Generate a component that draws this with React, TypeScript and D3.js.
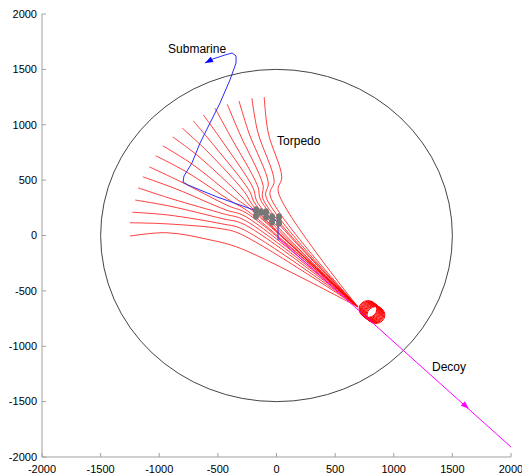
import React from "react";
import * as d3 from "d3";

// sonar plot: torpedo tracks homing on a decoy launched from the sub
const W = 522,
  H = 476;

const axisTicks = [-2000, -1500, -1000, -500, 0, 500, 1000, 1500, 2000];
const detectionRadius = 1500;

// submarine track, start -> end (arrow at end)
const submarineTrack: [number, number][] = [
  [13, -41], [13, 122], [-55, 167], [-166, 221], [-507, 348], [-755, 456],
  [-797, 483], [-789, 537], [-721, 655], [-652, 835], [-567, 1016],
  [-482, 1196], [-397, 1404], [-345, 1558], [-345, 1621], [-379, 1648],
  [-439, 1630], [-542, 1594], [-610, 1558],
];

// decoy track and where its arrow sits
const decoyTrack: [number, number][] = [[15, -25], [2000, -1910]];
const decoyArrow: [number, number] = [1640, -1565];

// torpedo tracks from each start point in to the decoy
const torpedoTracks: [number, number][][] = [
  [[-1250, -5], [-935, 25], [-565, -40], [-310, -115], [695, -645]],
  [[-1250, 115], [-935, 105], [-465, 60], [-310, 15], [695, -645]],
  [[-1230, 210], [-925, 185], [-465, 105], [-295, 60], [695, -645]],
  [[-1205, 320], [-910, 265], [-455, 150], [-285, 105], [695, -645]],
  [[-1180, 430], [-890, 330], [-450, 195], [-275, 140], [695, -645]],
  [[-1140, 530], [-855, 420], [-430, 230], [-270, 175], [695, -645]],
  [[-1085, 620], [-825, 490], [-405, 265], [-260, 205], [695, -645]],
  [[-1030, 720], [-770, 575], [-380, 305], [-245, 220], [695, -645]],
  [[-970, 810], [-720, 645], [-355, 340], [-225, 240], [695, -645]],
  [[-885, 890], [-660, 710], [-310, 365], [-210, 250], [695, -645]],
  [[-805, 970], [-600, 770], [-275, 395], [-190, 255], [695, -645]],
  [[-710, 1035], [-535, 815], [-235, 410], [-175, 275], [695, -645]],
  [[-625, 1090], [-465, 855], [-200, 430], [-160, 295], [695, -645]],
  [[-525, 1150], [-390, 890], [-160, 445], [-130, 310], [695, -645]],
  [[-420, 1185], [-310, 910], [-115, 455], [-115, 330], [695, -645]],
  [[-320, 1215], [-235, 925], [-70, 475], [-90, 350], [695, -645]],
  [[-210, 1240], [-160, 935], [-20, 490], [-55, 365], [695, -645]],
  [[-105, 1250], [-70, 925], [45, 530], [15, 395], [695, -645]],
];

// torpedo circling round the decoy
const loopCenters: [number, number][] = [
  [780, -664], [786, -669], [792, -674], [798, -679], [804, -684],
  [810, -689], [816, -694], [822, -699], [828, -704], [834, -709],
  [840, -713], [848, -718],
];
const loopRadius = 76;

// grey sub positions
const podMarkers: [number, number][] = [
  [-175, 230], [-175, 176], [-132, 212], [-89, 212], [-89, 167],
  [-38, 167], [-38, 122], [22, 167], [22, 113],
];

const labels = [
  { text: "Submarine", x: -925, y: 1648 },
  { text: "Torpedo", x: 5, y: 817 },
  { text: "Decoy", x: 1326, y: -1223 },
];

const font = "'Liberation Sans', Arial, sans-serif";

const arrowHead = (p: [number, number], angle: number, len = 8, half = 3) => {
  const c = Math.cos(angle),
    s = Math.sin(angle);
  const bx = p[0] - len * c,
    by = p[1] - len * s;
  return `${p[0]},${p[1]} ${bx - half * s},${by + half * c} ${bx + half * s},${by - half * c}`;
};

export default function App() {
  const x = d3.scaleLinear().domain([-2000, 2000]).range([42, 511]);
  const y = d3.scaleLinear().domain([-2000, 2000]).range([457, 14]);

  const line = d3
    .line<[number, number]>()
    .x((d) => x(d[0]))
    .y((d) => y(d[1]));

  const track = d3
    .line<[number, number]>()
    .x((d) => x(d[0]))
    .y((d) => y(d[1]))
    .curve(d3.curveCatmullRom.alpha(0.5));

  const subEnd = submarineTrack[submarineTrack.length - 1];
  const subPrev = submarineTrack[submarineTrack.length - 2];
  const subAngle = Math.atan2(y(subEnd[1]) - y(subPrev[1]), x(subEnd[0]) - x(subPrev[0]));
  const decAngle = Math.atan2(
    y(decoyTrack[1][1]) - y(decoyTrack[0][1]),
    x(decoyTrack[1][0]) - x(decoyTrack[0][0])
  );

  return (
    <svg
      width={W}
      height={H}
      style={{ position: "absolute", left: 0, top: 0, background: "#fff" }}
    >
      {/* axes */}
      <g stroke="#a0a0a0" strokeWidth={1} fill="none">
        <line x1={x(-2000)} x2={x(-2000)} y1={y(-2000)} y2={y(2000)} />
        <line x1={x(-2000)} x2={x(2000)} y1={y(-2000)} y2={y(-2000)} />
        {axisTicks.map((t) => (
          <g key={t}>
            <line x1={x(-2000)} x2={x(-2000) + 4} y1={y(t)} y2={y(t)} />
            <line x1={x(t)} x2={x(t)} y1={y(-2000)} y2={y(-2000) - 4} />
          </g>
        ))}
      </g>
      <g fontFamily={font} fontSize={11} fill="#000">
        {axisTicks.map((t) => (
          <text key={"y" + t} x={x(-2000) - 5} y={y(t)} dy="0.35em" textAnchor="end">
            {t}
          </text>
        ))}
        {axisTicks.map((t) => (
          <text key={"x" + t} x={x(t)} y={y(-2000) + 16} textAnchor="middle">
            {t}
          </text>
        ))}
      </g>

      {/* detection range */}
      <ellipse
        cx={x(0)}
        cy={y(0)}
        rx={x(detectionRadius) - x(0)}
        ry={y(0) - y(detectionRadius)}
        fill="none"
        stroke="#444"
        strokeWidth={1}
      />

      {/* torpedoes */}
      <g fill="none" stroke="#ff0000" strokeWidth={0.9} strokeOpacity={0.85}>
        {torpedoTracks.map((t, i) => (
          <path key={i} d={track(t) || ""} />
        ))}
      </g>
      <g fill="none" stroke="#ff0000" strokeWidth={1}>
        {loopCenters.map((c, i) => (
          <ellipse
            key={"l" + i}
            cx={x(c[0])}
            cy={y(c[1])}
            rx={x(loopRadius) - x(0)}
            ry={y(0) - y(loopRadius)}
          />
        ))}
      </g>

      {/* decoy */}
      <path d={line(decoyTrack) || ""} fill="none" stroke="#ff00ff" strokeWidth={1} />
      <polygon
        points={arrowHead([x(decoyArrow[0]), y(decoyArrow[1])], decAngle)}
        fill="#ff00ff"
      />

      {/* submarine */}
      <path d={line(submarineTrack) || ""} fill="none" stroke="#2a2aff" strokeWidth={1} />
      <polygon points={arrowHead([x(subEnd[0]), y(subEnd[1])], subAngle)} fill="#0000ff" />
      <g fill="#777">
        {podMarkers.map((p, i) => (
          <ellipse key={i} cx={x(p[0])} cy={y(p[1])} rx={3} ry={3.8} />
        ))}
      </g>

      <g fontFamily={font} fontSize={12} fill="#000">
        {labels.map((l) => (
          <text key={l.text} x={x(l.x)} y={y(l.y)}>
            {l.text}
          </text>
        ))}
      </g>
    </svg>
  );
}
